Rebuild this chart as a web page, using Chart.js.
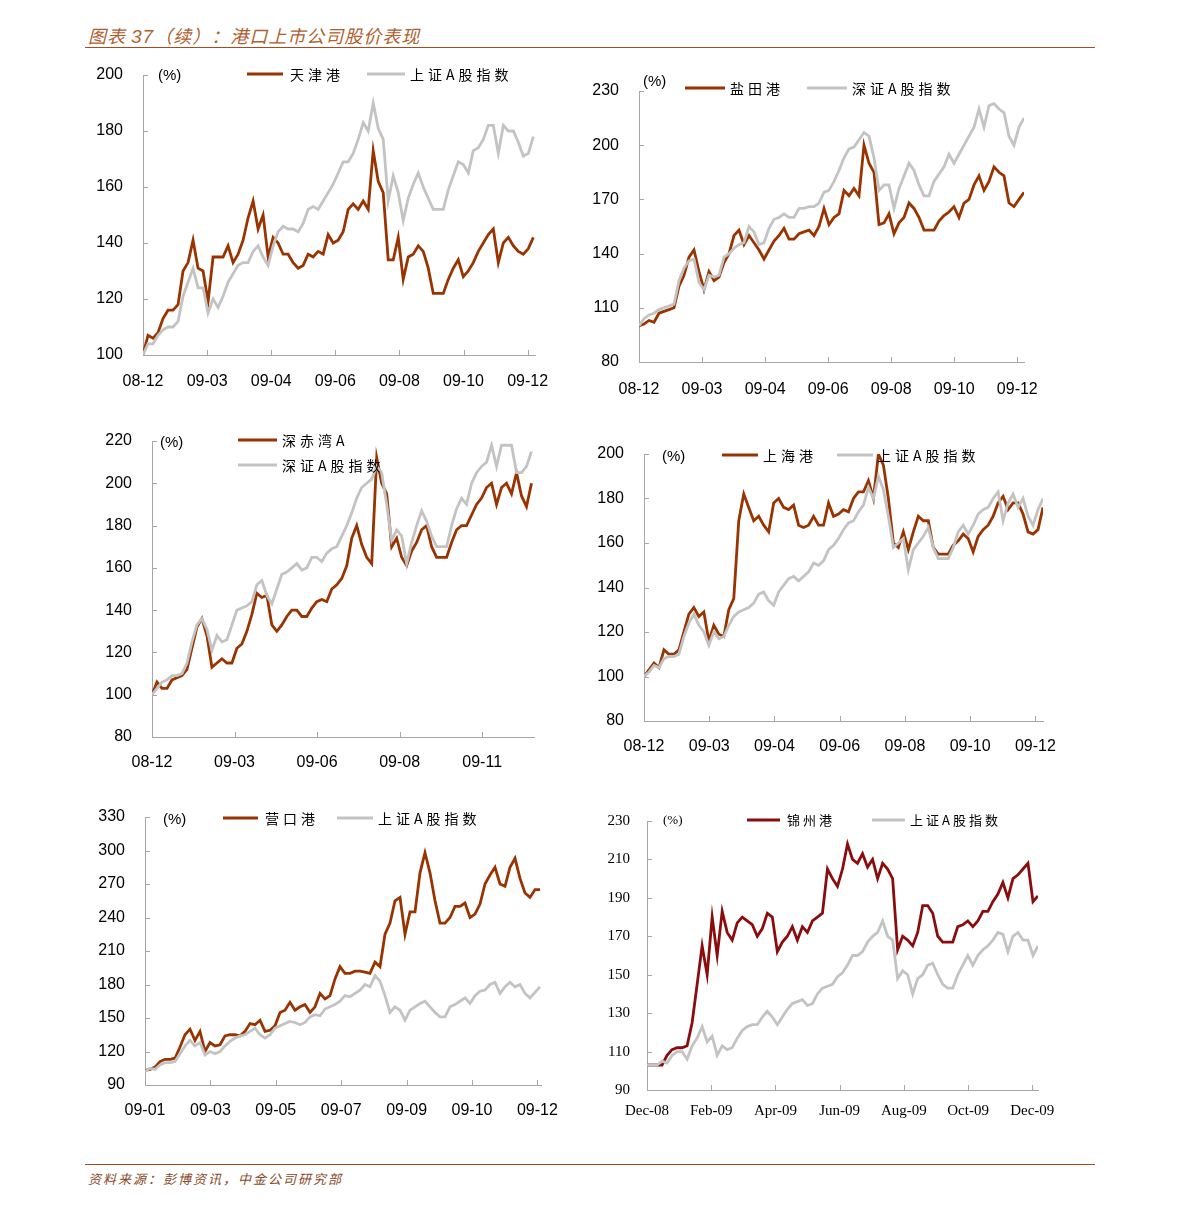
<!DOCTYPE html>
<html>
<head>
<meta charset="utf-8">
<script src="https://cdn.jsdelivr.net/npm/chart.js@4/dist/chart.umd.min.js"></script>
<style>
  body { margin: 0; background: #fff; width: 1191px; height: 1207px; position: relative; font-family: "Liberation Sans", Arial, sans-serif; }
  .abs { position: absolute; }
  .title { left: 88px; top: 22px; font-family: "Noto Sans CJK SC", sans-serif; font-style: italic; font-size: 18px; color: #b0602e; letter-spacing: 1px; }
  .title b { font-family: "Liberation Sans"; font-weight: normal; font-size: 19px; }
  .rule { left: 85px; width: 1010px; height: 1px; background: #a84a1a; }
  .source { left: 88px; top: 1169px; font-family: "Noto Sans CJK SC", sans-serif; font-style: italic; font-size: 13px; color: #8a4a26; letter-spacing: 2px; }
  .pct { font-size: 15px; color: #000; transform: translateY(-50%); }
  .lg-line { height: 3px; transform: translateY(-50%); }
  .lg-text { font-family: "Noto Sans CJK SC", sans-serif; font-size: 14px; letter-spacing: 4px; color: #000; transform: translateY(-52%); }
  .serif { font-family: "Liberation Serif", serif; }
</style>
</head>
<body>
<div class="abs title">图表 <b>37</b>（续）：港口上市公司股价表现</div>
<div class="abs rule" style="top:47px"></div>
<div class="abs rule" style="top:1164px"></div>
<div class="abs source">资料来源：彭博资讯，中金公司研究部</div>

<script>
// ---- data (index = sample along the time axis) ----
var tjLabels = ['08-12', '09-03', '09-04', '09-06', '09-08', '09-10', '09-12'];
var tjPort = [100,107,106,108,113,116,116,118,130,133, 141,131,130,119,135,135,135,139,133,136,
              141,149,155,145,150,135,142,140,136,136, 133,131,132,136,135,137,136,143,140,141,
              144,152,154,152,155,152,173,162,158,134, 134,142,127,135,136,139,137,131,122,122,
              122,127,131,134,128,130,133,137,140,143, 145,133,140,142,139,137,136,138,142];
var tjIndex = [100,104,104,107,109,110,110,112,121,126, 131,124,124,115,120,117,121,126,129,132,
               133,133,137,139,135,132,139,144,146,145, 145,144,147,152,153,152,155,158,161,165,
               169,169,172,177,183,180,190,181,177,155, 164,158,148,156,161,165,160,156,152,152,
               152,159,164,169,168,165,173,174,177,182, 182,172,182,180,180,176,171,172,178];

var ytLabels = ['08-12', '09-03', '09-04', '09-06', '09-08', '09-10', '09-12'];
var ytPort = [100,101,103,102,107,108,109,110,122,128, 138,142,130,120,130,125,127,135,140,150,
              153,145,150,146,142,137,142,147,150,154, 148,148,151,152,153,150,155,165,156,160,
              162,175,172,176,172,200,190,185,156,157, 162,151,157,160,168,165,160,153,153,153,
              158,161,163,166,160,168,170,178,183,175, 180,188,185,183,168,166,170,174];
var ytIndex = [100,104,106,107,109,110,111,112,125,132, 136,137,124,120,128,127,128,138,140,143,
               145,146,155,152,145,146,154,159,160,162, 160,160,165,165,166,166,168,174,175,180,
               186,193,198,199,203,207,205,193,175,178, 178,165,176,183,190,186,178,172,172,180,
               184,188,195,190,195,200,205,210,220,210, 222,223,220,218,205,200,210,215];

var cwLabels = ['08-12', '09-03', '09-06', '09-08', '09-11'];
var cwPort = [100,106,103,103,107,108,109,112,122,132, 136,128,113,115,117,115,115,122,124,130,
              138,148,146,147,133,130,133,137,140,140, 137,137,141,144,145,144,150,152,155,161,
              174,180,171,165,162,212,200,195,170,174, 165,161,168,172,178,180,170,165,165,165,
              172,178,180,180,185,190,193,198,200,190, 198,200,195,205,194,189,200];
var cwIndex = [100,103,106,107,109,109,110,115,125,133, 136,131,121,128,125,126,133,140,141,142,
               144,152,154,147,143,150,157,158,160,162, 159,160,165,165,163,167,169,170,175,180,
               186,193,198,200,202,208,205,190,173,178, 175,162,172,180,187,182,175,170,170,170,
               180,188,193,190,200,205,208,210,218,208, 218,218,218,205,205,208,215];

var shLabels = ['08-12', '09-03', '09-04', '09-06', '09-08', '09-10', '09-12'];
var shPort = [100,103,106,104,112,110,110,112,120,128, 131,127,129,116,123,119,118,130,135,170,
              182,176,170,172,168,165,178,180,176,175, 177,168,167,168,172,168,168,178,172,173,
              175,174,180,183,183,188,180,200,195,180, 160,158,165,157,165,172,170,170,158,155,
              155,155,159,161,164,162,156,163,166,168, 172,178,181,175,178,178,173,165,164,166,176];
var shIndex = [100,102,105,104,108,109,109,110,118,124, 128,123,120,114,120,117,118,123,127,129,
               130,131,133,137,138,134,132,138,141,144, 145,143,145,147,151,150,152,157,159,162,
               166,169,170,174,177,185,180,190,184,172, 158,160,162,148,157,160,163,167,158,153,
               153,153,158,165,168,164,168,173,175,176, 180,183,170,178,182,176,180,172,168,175,180];

var ykLabels = ['09-01', '09-03', '09-05', '09-07', '09-09', '09-10', '09-12'];
var ykPort = [103,104,106,111,113,113,114,124,135,140, 130,138,120,128,125,126,134,135,135,134,
              138,145,144,148,138,139,143,155,157,164, 157,160,162,155,160,172,167,170,185,196,
              190,190,192,192,191,190,200,196,225,235, 255,258,225,245,245,280,298,280,255,235,
              235,240,250,250,253,240,243,252,270,278, 285,270,268,285,293,275,262,258,265,265];
var ykIndex = [102,105,104,108,110,110,111,118,125,130, 125,128,117,120,118,120,125,129,132,134,
               135,138,141,135,132,135,141,143,145,147, 146,144,146,151,153,152,158,160,162,165,
               170,169,172,175,180,178,188,183,170,155, 160,157,148,157,160,163,165,160,155,151,
               151,160,162,165,168,163,170,174,175,180, 182,172,178,182,178,180,172,168,173,178];

var jzLabels = ['Dec-08', 'Feb-09', 'Apr-09', 'Jun-09', 'Aug-09', 'Oct-09', 'Dec-09'];
var jzPort = [103,103,103,103,108,111,112,112,113,125, 145,165,150,180,160,183,172,168,177,180,
              178,176,170,174,182,180,162,167,170,175, 168,175,172,178,180,182,205,200,196,205,
              218,210,208,213,206,210,200,208,205,200, 163,170,168,165,172,186,186,182,170,167,
              167,167,175,176,178,175,178,183,183,188, 192,198,190,200,202,205,208,188,191];
var jzIndex = [103,103,103,105,104,108,110,110,106,113, 117,123,115,118,108,113,111,112,117,121,
               123,124,124,128,131,128,124,128,132,135, 136,137,134,135,140,143,144,145,149,151,
               155,160,160,162,167,170,172,178,170,168, 148,152,150,140,148,150,155,156,150,145,
               143,143,150,155,160,155,160,163,165,168, 172,171,162,170,172,168,168,160,165];

var RED = '#993300', GRAY = '#c3c3c3', DARKRED = '#8b0c0c';
var AXIS = '#a6a6a6';

Chart.defaults.font.family = '"Liberation Sans", Arial, sans-serif';
Chart.defaults.font.size = 16;
Chart.defaults.color = '#000';

// short tick marks pointing into the plot
var innerTicks = {
    id: 'innerTicks',
    beforeDatasetsDraw: function (chart) {
        var ctx = chart.ctx, a = chart.chartArea, sx = chart.scales.x, sy = chart.scales.y;
        ctx.save();
        ctx.strokeStyle = AXIS;
        ctx.lineWidth = 1;
        sx.ticks.forEach(function (t) {
            var px = Math.round(sx.getPixelForValue(t.value)) + 0.5;
            ctx.beginPath(); ctx.moveTo(px, a.bottom); ctx.lineTo(px, a.bottom - 5); ctx.stroke();
        });
        sy.ticks.forEach(function (t) {
            var py = Math.round(sy.getPixelForValue(t.value)) + 0.5;
            ctx.beginPath(); ctx.moveTo(a.left, py); ctx.lineTo(a.left + 5, py); ctx.stroke();
        });
        ctx.restore();
    }
};

function points(arr) {
    return arr.map(function (v, i) { return { x: i, y: v }; });
}

function addText(cls, text, x, y, extra) {
    var d = document.createElement('div');
    d.className = 'abs ' + cls;
    d.style.left = x + 'px';
    d.style.top = y + 'px';
    if (extra) d.style.cssText += extra;
    d.textContent = text;
    document.body.appendChild(d);
}

function addLine(color, x1, x2, y) {
    var d = document.createElement('div');
    d.className = 'abs lg-line';
    d.style.left = x1 + 'px';
    d.style.top = y + 'px';
    d.style.width = (x2 - x1) + 'px';
    d.style.background = color;
    document.body.appendChild(d);
}

function noPad(s) {
    s.paddingTop = 0; s.paddingBottom = 0; s.paddingLeft = 0; s.paddingRight = 0;
}

function makeChart(box, labels, red, gray, redColor, tickFont, tickPad) {
    var cv = document.createElement('canvas');
    var w = box.R - box.L + 90, h = box.B - box.T + 50;
    cv.width = w; cv.height = h;
    cv.style.position = 'absolute';
    cv.style.left = (box.L - 60) + 'px';
    cv.style.top = (box.T - 10) + 'px';
    document.body.appendChild(cv);

    new Chart(cv, {
        type: 'line',
        data: {
            datasets: [{
                data: points(gray),
                borderColor: GRAY,
                borderWidth: 2.8,
                pointRadius: 0,
                tension: 0
            }, {
                data: points(red),
                borderColor: redColor,
                borderWidth: 2.8,
                pointRadius: 0,
                tension: 0
            }]
        },
        options: {
            responsive: false,
            animation: false,
            layout: { padding: { left: 0, right: 30, top: 10, bottom: 0 } },
            plugins: { legend: { display: false }, tooltip: { enabled: false } },
            scales: {
                x: {
                    type: 'linear',
                    min: 0,
                    max: box.xMax,
                    afterBuildTicks: function (s) {
                        s.ticks = labels.map(function (_, k) { return { value: k * box.gap }; });
                    },
                    afterFit: function (s) { s.height = 40; noPad(s); },
                    ticks: {
                        autoSkip: false,
                        maxRotation: 0,
                        padding: tickPad,
                        font: tickFont,
                        callback: function (v, i) { return labels[i]; }
                    },
                    grid: { display: true, drawOnChartArea: false, drawTicks: false },
                    border: { display: true, color: AXIS, width: 1 }
                },
                y: {
                    min: box.yMin,
                    max: box.yMax,
                    afterFit: function (s) { s.width = 60; noPad(s); },
                    ticks: { stepSize: box.step, padding: box.yPad || 20, font: tickFont },
                    grid: { display: true, drawOnChartArea: false, drawTicks: false },
                    border: { display: true, color: AXIS, width: 1 }
                }
            }
        },
        plugins: [innerTicks]
    });
}

var sans = { family: '"Liberation Sans", Arial, sans-serif', size: 16 };
var serif = { family: '"Liberation Serif", "Times New Roman", serif', size: 15 };

// 天津港
makeChart({ L: 143, R: 535, T: 75, B: 355, yMin: 100, yMax: 200, step: 20, gap: 12.81, xMax: 78.33 },
          tjLabels, tjPort, tjIndex, RED, sans, 17);
addText('pct', '(%)', 158, 74);
addLine(RED, 247, 283, 74);  addText('lg-text', '天津港', 290, 74);
addLine(GRAY, 367, 405, 74); addText('lg-text', '上证A股指数', 410, 74);

// 盐田港
makeChart({ L: 639, R: 1024, T: 91, B: 362, yMin: 80, yMax: 230, step: 30, gap: 12.61, xMax: 77 },
          ytLabels, ytPort, ytIndex, RED, sans, 18);
addText('pct', '(%)', 643, 80);
addLine(RED, 685, 725, 88);  addText('lg-text', '盐田港', 730, 88);
addLine(GRAY, 807, 847, 88); addText('lg-text', '深证A股指数', 852, 88);

// 深赤湾A
makeChart({ L: 152, R: 534, T: 441, B: 737, yMin: 80, yMax: 220, step: 20, gap: 16.53, xMax: 76.5 },
          cwLabels, cwPort, cwIndex, RED, sans, 16);
addText('pct', '(%)', 160, 441);
addLine(RED, 238, 277, 440);  addText('lg-text', '深赤湾A', 282, 440);
addLine(GRAY, 238, 277, 465); addText('lg-text', '深证A股指数', 282, 465);

// 上海港
makeChart({ L: 644, R: 1043, T: 454, B: 721, yMin: 80, yMax: 200, step: 20, gap: 13.08, xMax: 80 },
          shLabels, shPort, shIndex, RED, sans, 16);
addText('pct', '(%)', 662, 455);
addLine(RED, 722, 758, 455);  addText('lg-text', '上海港', 763, 455);
addLine(GRAY, 837, 873, 455); addText('lg-text', '上证A股指数', 877, 455);

// 营口港
makeChart({ L: 145, R: 541, T: 817, B: 1085, yMin: 90, yMax: 330, step: 30, gap: 13.08, xMax: 79.2 },
          ykLabels, ykPort, ykIndex, RED, sans, 16);
addText('pct', '(%)', 163, 818);
addLine(RED, 223, 258, 818);  addText('lg-text', '营口港', 265, 818);
addLine(GRAY, 337, 373, 818); addText('lg-text', '上证A股指数', 378, 818);

// 锦州港
makeChart({ L: 647, R: 1038, T: 821, B: 1090, yMin: 90, yMax: 230, step: 20, gap: 12.81, xMax: 78, yPad: 17 },
          jzLabels, jzPort, jzIndex, DARKRED, serif, 12);
addText('pct serif', '(%)', 663, 820, 'font-size:13px;');
addLine(DARKRED, 747, 780, 820); addText('lg-text', '锦州港', 787, 820, 'font-size:13px;letter-spacing:3px;');
addLine(GRAY, 872, 905, 820);    addText('lg-text', '上证A股指数', 910, 820, 'font-size:13px;letter-spacing:3px;');
</script>
</body>
</html>
